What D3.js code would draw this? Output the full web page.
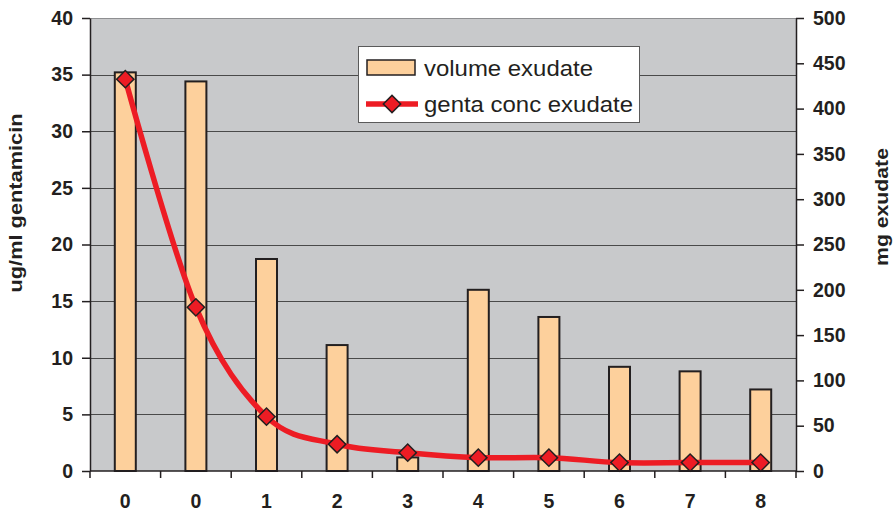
<!DOCTYPE html>
<html>
<head>
<meta charset="utf-8">
<script src="https://cdn.jsdelivr.net/npm/d3@7"></script>
<style>
  html, body { margin: 0; padding: 0; background: #fff; }
  svg { display: block; font-family: "Liberation Sans", Arial, sans-serif; }
</style>
</head>
<body>
<svg id="chart" width="896" height="512"></svg>
<script>
// Day labels along the bottom axis
const days = ["0", "0", "1", "2", "3", "4", "5", "6", "7", "8"];
// Exudate volume per sample (mg) – right axis
const volumeExudate = [440, 430, 234, 139, 15, 200, 170, 115, 110, 90];
// Gentamicin concentration in the exudate (ug/ml) – left axis
const gentaConc = [34.6, 14.45, 4.8, 2.36, 1.62, 1.18, 1.18, 0.74, 0.74, 0.74];
// Axis ticks
const leftTicks = [0, 5, 10, 15, 20, 25, 30, 35, 40];
const rightTicks = [0, 50, 100, 150, 200, 250, 300, 350, 400, 450, 500];

const ink = "#231f20";
const svg = d3.select("#chart");
const margin = { left: 90, right: 100, top: 18, bottom: 41 };
const W = 896, H = 512;
const x0 = margin.left, x1 = W - margin.right;
const y0 = H - margin.bottom, y1 = margin.top;

const x = d3.scaleBand().domain(d3.range(days.length)).range([x0, x1]);
const yL = d3.scaleLinear().domain([0, 40]).range([y0, y1]);
const yR = d3.scaleLinear().domain([0, 500]).range([y0, y1]);

// Plot background
svg.append("rect")
  .attr("x", x0).attr("y", y1)
  .attr("width", x1 - x0).attr("height", y0 - y1)
  .attr("fill", "#c8c9cb");
svg.append("line")
  .attr("x1", x0).attr("x2", x1).attr("y1", y1 + 0.5).attr("y2", y1 + 0.5)
  .attr("stroke", "#8e8f91").attr("stroke-width", 1);

// Horizontal gridlines from the left axis
svg.append("g")
  .selectAll("line")
  .data(leftTicks.filter(t => t > 0 && t < 40))
  .join("line")
  .attr("x1", x0).attr("x2", x1)
  .attr("y1", d => Math.round(yL(d)) + 0.5)
  .attr("y2", d => Math.round(yL(d)) + 0.5)
  .attr("stroke", "#4a4a4a").attr("stroke-width", 1);

// Volume bars
const barW = 21;
svg.append("g")
  .selectAll("rect")
  .data(volumeExudate)
  .join("rect")
  .attr("x", (d, i) => x(i) + x.bandwidth() / 2 - barW / 2)
  .attr("y", d => yR(d))
  .attr("width", barW)
  .attr("height", d => y0 - yR(d))
  .attr("fill", "#fdd09c")
  .attr("stroke", ink).attr("stroke-width", 2);

// Axes
const tickFont = g => g.selectAll("text")
  .attr("font-size", 19.5).attr("font-weight", "bold").attr("fill", ink);

const leftAxis = svg.append("g")
  .attr("transform", `translate(${x0},0)`)
  .call(d3.axisLeft(yL).tickValues(leftTicks).tickSize(8).tickSizeOuter(0).tickPadding(9));
leftAxis.call(tickFont);
leftAxis.selectAll("line, path").attr("stroke", ink).attr("stroke-width", 1.5);

const rightAxis = svg.append("g")
  .attr("transform", `translate(${x1},0)`)
  .call(d3.axisRight(yR).tickValues(rightTicks).tickSize(8).tickSizeOuter(0).tickPadding(9));
rightAxis.call(tickFont);
rightAxis.selectAll("line, path").attr("stroke", ink).attr("stroke-width", 1.5);

// Bottom axis: line, ticks between categories, day labels
const bottom = svg.append("g");
bottom.append("line")
  .attr("x1", x0).attr("x2", x1).attr("y1", y0).attr("y2", y0)
  .attr("stroke", ink).attr("stroke-width", 1.5);
bottom.selectAll("line.tk")
  .data(d3.range(days.length + 1))
  .join("line").attr("class", "tk")
  .attr("x1", i => i < days.length ? x(i) : x1)
  .attr("x2", i => i < days.length ? x(i) : x1)
  .attr("y1", y0).attr("y2", y0 + 7)
  .attr("stroke", ink).attr("stroke-width", 1.5);
bottom.selectAll("text")
  .data(days)
  .join("text")
  .attr("x", (d, i) => x(i) + x.bandwidth() / 2)
  .attr("y", 508)
  .attr("text-anchor", "middle")
  .attr("font-size", 19.5).attr("font-weight", "bold").attr("fill", ink)
  .text(d => d);

// Concentration line (smoothed) and diamond markers
const cx = i => x(i) + x.bandwidth() / 2;
const line = d3.line()
  .x((d, i) => cx(i))
  .y(d => yL(d))
  .curve(d3.curveCardinal.tension(0));
svg.append("path")
  .datum(gentaConc)
  .attr("d", line)
  .attr("fill", "none")
  .attr("stroke", "#ed1c24").attr("stroke-width", 5.5)
  .attr("stroke-linejoin", "round");

const diamond = d3.symbol().type(d3.symbolSquare).size(150);
svg.append("g")
  .selectAll("path")
  .data(gentaConc)
  .join("path")
  .attr("d", diamond)
  .attr("transform", (d, i) => `translate(${cx(i)},${yL(d)}) rotate(45)`)
  .attr("fill", "#ed1c24")
  .attr("stroke", ink).attr("stroke-width", 1.5);

// Axis titles
svg.append("text")
  .attr("transform", "translate(22,203) rotate(-90)")
  .attr("text-anchor", "middle")
  .attr("font-size", 19).attr("font-weight", "bold").attr("fill", ink)
  .attr("textLength", 179).attr("lengthAdjust", "spacingAndGlyphs")
  .text("ug/ml gentamicin");
svg.append("text")
  .attr("transform", "translate(888,207) rotate(-90)")
  .attr("text-anchor", "middle")
  .attr("font-size", 19).attr("font-weight", "bold").attr("fill", ink)
  .attr("textLength", 118).attr("lengthAdjust", "spacingAndGlyphs")
  .text("mg exudate");

// Legend
const lg = svg.append("g");
lg.append("rect")
  .attr("x", 358.5).attr("y", 46.5).attr("width", 281).attr("height", 76)
  .attr("fill", "#fff").attr("stroke", "#5a5a5a").attr("stroke-width", 1);
lg.append("rect")
  .attr("x", 367).attr("y", 60).attr("width", 48).attr("height", 15)
  .attr("fill", "#fdd09c").attr("stroke", ink).attr("stroke-width", 1.5);
lg.append("text")
  .attr("x", 424).attr("y", 76)
  .attr("font-size", 22).attr("fill", ink)
  .attr("textLength", 169).attr("lengthAdjust", "spacingAndGlyphs")
  .text("volume exudate");
lg.append("line")
  .attr("x1", 366).attr("x2", 418).attr("y1", 104).attr("y2", 104)
  .attr("stroke", "#ed1c24").attr("stroke-width", 5.5);
lg.append("path")
  .attr("d", diamond)
  .attr("transform", "translate(392,104) rotate(45)")
  .attr("fill", "#ed1c24").attr("stroke", ink).attr("stroke-width", 1.5);
lg.append("text")
  .attr("x", 424).attr("y", 112)
  .attr("font-size", 22).attr("fill", ink)
  .attr("textLength", 209).attr("lengthAdjust", "spacingAndGlyphs")
  .text("genta conc exudate");
</script>
</body>
</html>
